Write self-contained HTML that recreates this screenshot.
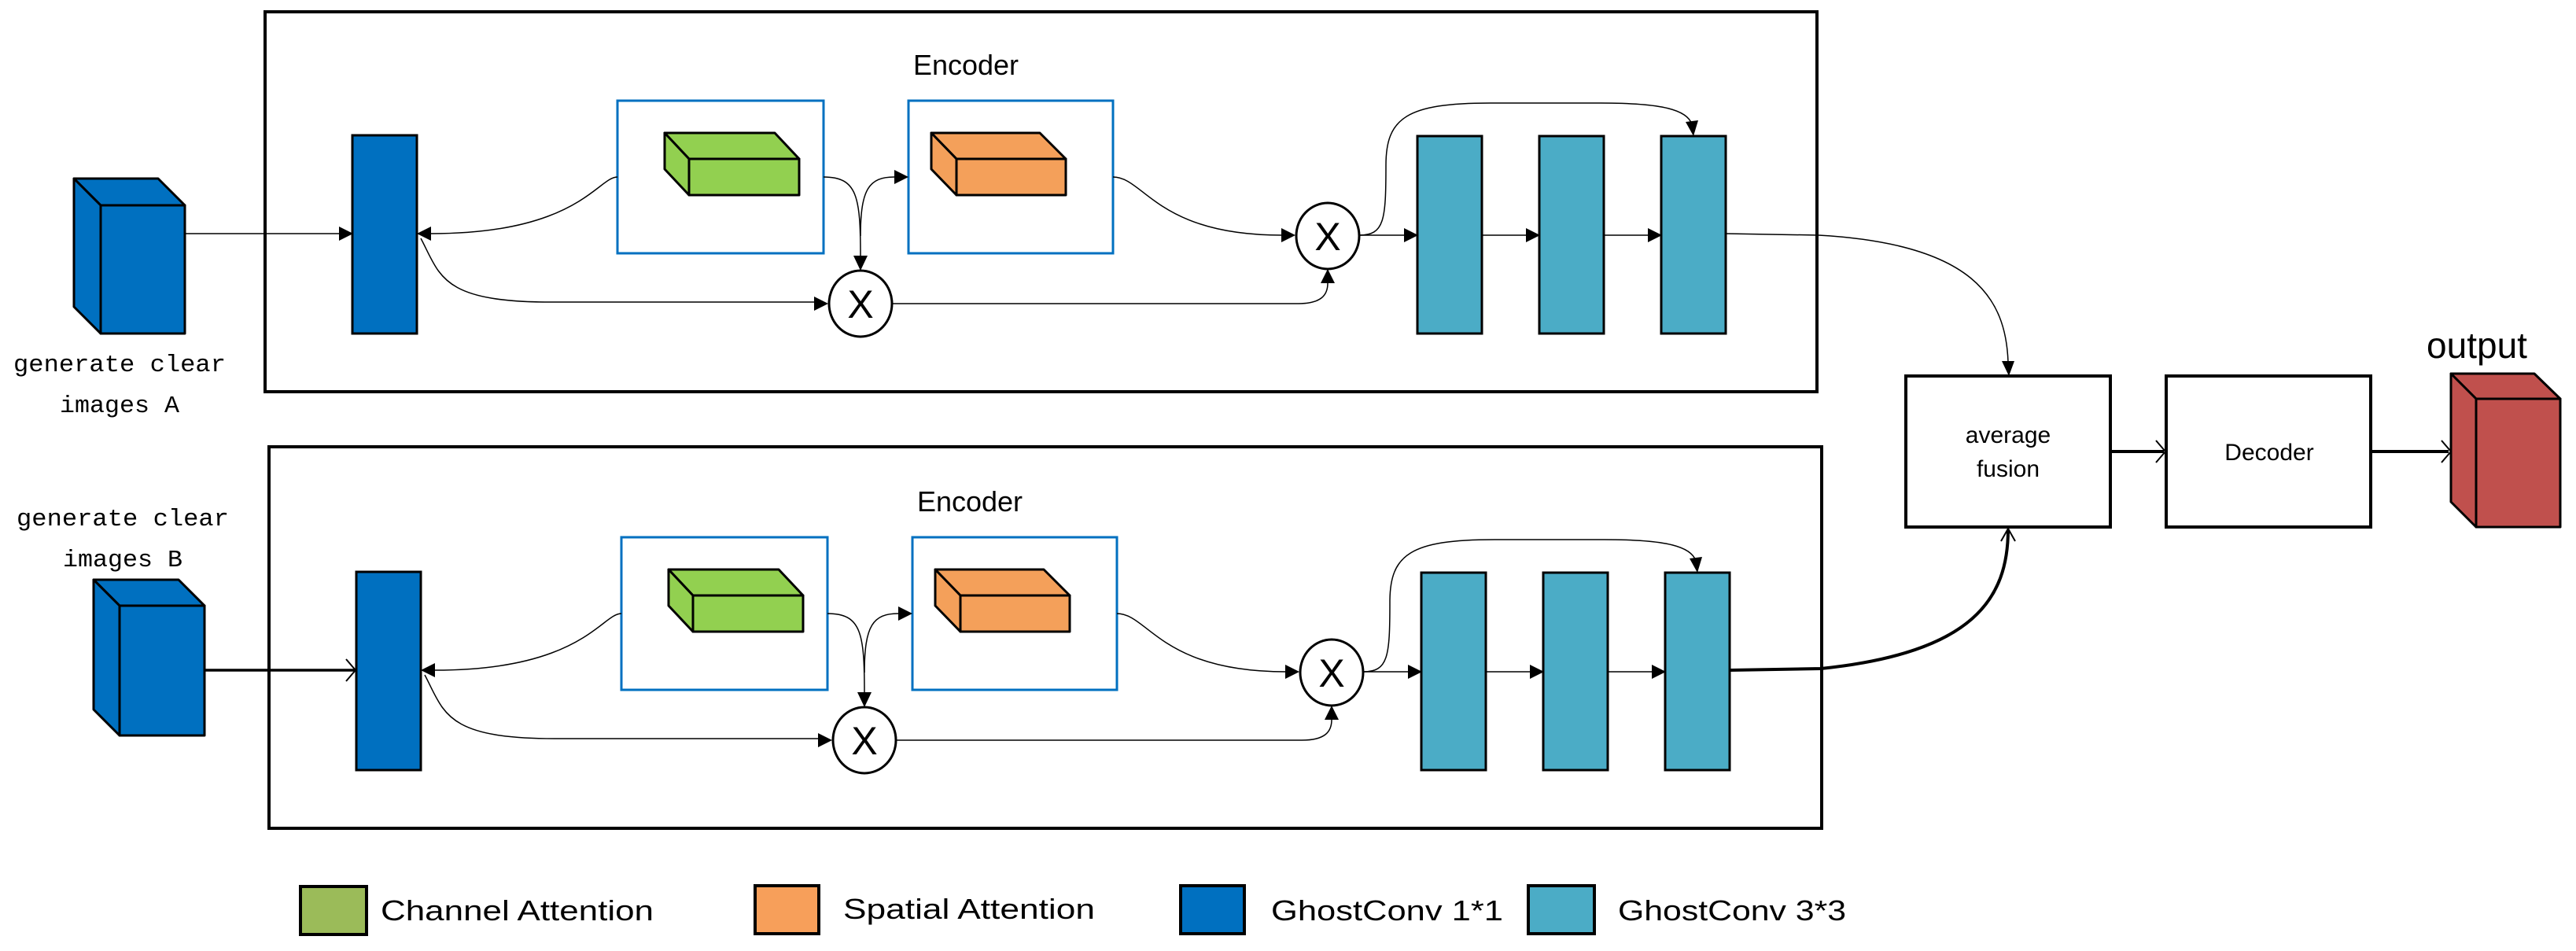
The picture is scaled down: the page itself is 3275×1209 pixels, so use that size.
<!DOCTYPE html>
<html><head><meta charset="utf-8"><style>html,body{margin:0;padding:0;background:#fff}svg{display:block}</style></head>
<body>
<svg width="3275" height="1209" viewBox="0 0 3275 1209" xmlns="http://www.w3.org/2000/svg">
<defs>
<g id="enc">
  <text x="1228" y="95" font-family="Liberation Sans Narrow, Liberation Sans, sans-serif" font-size="36" text-anchor="middle">Encoder</text>
  <rect x="448" y="172" width="82" height="252" fill="#0070c0" stroke="#000" stroke-width="3"/>
  <rect x="785" y="128" width="262" height="194" fill="#fff" stroke="#0070c0" stroke-width="3"/>
  <rect x="1155" y="128" width="260" height="194" fill="#fff" stroke="#0070c0" stroke-width="3"/>
  <g stroke="#000" stroke-width="3" stroke-linejoin="round">
    <polygon points="845,169 985,169 1016,202 876,202" fill="#92d050"/>
    <polygon points="845,169 876,202 876,248 845,215" fill="#92d050"/>
    <rect x="876" y="202" width="140" height="46" fill="#92d050"/>
    <polygon points="1184,169 1322,169 1355,202 1216,202" fill="#f4a05a"/>
    <polygon points="1184,169 1216,202 1216,248 1184,215" fill="#f4a05a"/>
    <rect x="1216" y="202" width="139" height="46" fill="#f4a05a"/>
  </g>
  <g fill="none" stroke="#000" stroke-width="1.5">
    <path d="M785,225 C760,225 735,297 548,297"/>
    <path d="M535,303 C560,350 560,384 700,384 L1036,384"/>
    <path d="M1047,225 C1090,225 1094,250 1094,326"/>
    <path d="M1094,300 C1094,240 1105,225 1137,225"/>
    <path d="M1415,225 C1455,225 1470,299 1630,299"/>
    <path d="M1135,386 L1650,386 C1680,386 1688,375 1688,360"/>
    <path d="M1728,299 L1785,299"/>
    <path d="M1884,299 L1940,299"/>
    <path d="M2039,299 L2095,299"/>
    <path d="M1728,299 C1760,299 1762,280 1762,210 C1762,150 1788,131 1895,131 L2035,131 C2115,131 2145,140 2151,158"/>
  </g>
  <g fill="#000">
    <polygon points="530,297 548,288 548,306"/>
    <polygon points="1053,386 1035,377 1035,395"/>
    <polygon points="1094,344 1085,325 1103,325"/>
    <polygon points="1155,225 1137,216 1137,234"/>
    <polygon points="1647,299 1629,290 1629,308"/>
    <polygon points="1688,342 1679,360 1697,360"/>
    <polygon points="1803,299 1785,290 1785,308"/>
    <polygon points="1958,299 1940,290 1940,308"/>
    <polygon points="2113,299 2095,290 2095,308"/>
    <polygon points="2153,173 2143,155 2159,153"/>
  </g>
  <g stroke="#000" stroke-width="3" fill="#fff">
    <ellipse cx="1094" cy="386" rx="40" ry="42"/>
    <ellipse cx="1688" cy="300" rx="40" ry="42"/>
  </g>
  <text x="1094" y="404" font-family="Liberation Sans, sans-serif" font-size="50" text-anchor="middle">X</text>
  <text x="1688" y="318" font-family="Liberation Sans, sans-serif" font-size="50" text-anchor="middle">X</text>
  <g fill="#4bacc6" stroke="#000" stroke-width="3">
    <rect x="1802" y="173" width="82" height="251"/>
    <rect x="1957" y="173" width="82" height="251"/>
    <rect x="2112" y="173" width="82" height="251"/>
  </g>
</g>
</defs>

<rect x="337" y="15" width="1973" height="483" fill="none" stroke="#000" stroke-width="4"/>
<rect x="342" y="568" width="1974" height="485" fill="none" stroke="#000" stroke-width="4"/>
<use href="#enc"/>
<use href="#enc" transform="translate(5,555)"/>

<!-- input A -->
<g stroke="#000" stroke-width="3" stroke-linejoin="round" fill="#0070c0">
  <polygon points="94,227 201,227 235,261 128,261"/>
  <polygon points="94,227 128,261 128,424 94,390"/>
  <rect x="128" y="261" width="107" height="163"/>
</g>
<path d="M235,297 L431,297" stroke="#000" stroke-width="1.5"/>
<polygon points="449,297 431,288 431,306" fill="#000"/>
<g font-family="Liberation Mono, monospace" font-size="31" text-anchor="middle">
<text x="152" y="472" textLength="270" lengthAdjust="spacingAndGlyphs">generate clear</text>
<text x="152" y="524" textLength="152" lengthAdjust="spacingAndGlyphs">images A</text>
<text x="156" y="668" textLength="270" lengthAdjust="spacingAndGlyphs">generate clear</text>
<text x="156" y="720" textLength="152" lengthAdjust="spacingAndGlyphs">images B</text>
</g>
<!-- input B -->
<g stroke="#000" stroke-width="3" stroke-linejoin="round" fill="#0070c0">
  <polygon points="119,737 227,737 260,770 152,770"/>
  <polygon points="119,737 152,770 152,935 119,902"/>
  <rect x="152" y="770" width="108" height="165"/>
</g>
<path d="M260,852 L451,852" stroke="#000" stroke-width="3.5"/>
<path d="M440,838 L452,852 L440,866" stroke="#000" stroke-width="2" fill="none"/>

<!-- to fusion -->
<path d="M2194,297 L2312,299 C2510,310 2550,380 2553,460" stroke="#000" stroke-width="1.5" fill="none"/>
<polygon points="2554,478 2545,459 2561,459" fill="#000"/>
<path d="M2199,852 L2315,850 C2510,830 2553,760 2553,673" stroke="#000" stroke-width="4" fill="none"/>
<path d="M2544,688 L2553,672 L2562,688" stroke="#000" stroke-width="2" fill="none"/>

<rect x="2423" y="478" width="260" height="192" fill="#fff" stroke="#000" stroke-width="4"/>
<rect x="2754" y="478" width="260" height="192" fill="#fff" stroke="#000" stroke-width="4"/>
<g font-family="Liberation Sans Narrow, Liberation Sans, sans-serif" font-size="30" text-anchor="middle">
<text x="2553" y="563">average</text>
<text x="2553" y="606">fusion</text>
<text x="2885" y="585">Decoder</text>
</g>
<path d="M2683,574 L2751,574" stroke="#000" stroke-width="4"/>
<path d="M2741,560 L2753,574 L2741,588" stroke="#000" stroke-width="2" fill="none"/>
<path d="M3014,574 L3113,574" stroke="#000" stroke-width="4"/>
<path d="M3104,560 L3116,574 L3104,588" stroke="#000" stroke-width="2" fill="none"/>
<g stroke="#000" stroke-width="3" stroke-linejoin="round" fill="#c0504d">
  <polygon points="3116,475 3222,475 3255,507 3148,507"/>
  <polygon points="3116,475 3148,507 3148,670 3116,638"/>
  <rect x="3148" y="507" width="107" height="163"/>
</g>
<text x="3149" y="455" font-family="Liberation Sans Narrow, Liberation Sans, sans-serif" font-size="46" text-anchor="middle">output</text>

<!-- legend -->
<g stroke="#000" stroke-width="4">
<rect x="382" y="1127" width="84" height="61" fill="#9bbb59"/>
<rect x="960" y="1126" width="81" height="61" fill="#f79f5a"/>
<rect x="1501" y="1126" width="81" height="61" fill="#0070c0"/>
<rect x="1943" y="1126" width="84" height="61" fill="#4bacc6"/>
</g>
<g font-family="Liberation Sans Narrow, Liberation Sans, sans-serif" font-size="36">
<text x="484" y="1170" textLength="347" lengthAdjust="spacingAndGlyphs">Channel Attention</text>
<text x="1072" y="1168" textLength="320" lengthAdjust="spacingAndGlyphs">Spatial Attention</text>
<text x="1616" y="1170" textLength="295" lengthAdjust="spacingAndGlyphs">GhostConv 1*1</text>
<text x="2057" y="1170" textLength="290" lengthAdjust="spacingAndGlyphs">GhostConv 3*3</text>
</g>
</svg>
</body></html>
